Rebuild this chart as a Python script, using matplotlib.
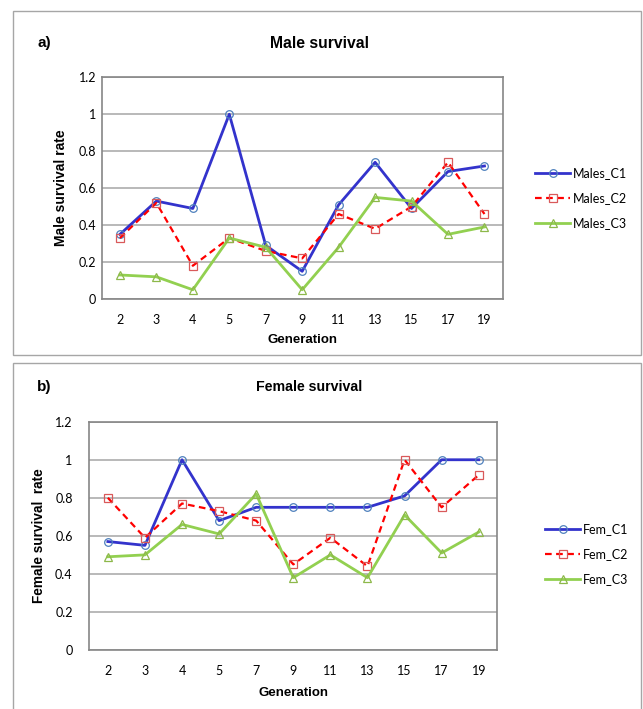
import matplotlib
matplotlib.use("Agg")
import matplotlib.pyplot as plt
from matplotlib.patches import Rectangle

generations = ["2", "3", "4", "5", "7", "9", "11", "13", "15", "17", "19"]

males_c1 = [0.35, 0.53, 0.49, 1.00, 0.29, 0.15, 0.51, 0.74, 0.49, 0.69, 0.72]
males_c2 = [0.33, 0.52, 0.18, 0.33, 0.26, 0.22, 0.46, 0.38, 0.50, 0.74, 0.46]
males_c3 = [0.13, 0.12, 0.05, 0.33, 0.28, 0.05, 0.28, 0.55, 0.53, 0.35, 0.39]

fem_c1 = [0.57, 0.55, 1.00, 0.68, 0.75, 0.75, 0.75, 0.75, 0.81, 1.00, 1.00]
fem_c2 = [0.80, 0.59, 0.77, 0.73, 0.68, 0.45, 0.59, 0.44, 1.00, 0.75, 0.92]
fem_c3 = [0.49, 0.50, 0.66, 0.61, 0.82, 0.38, 0.50, 0.38, 0.71, 0.51, 0.62]

male_labels = ["Males_C1", "Males_C2", "Males_C3"]
fem_labels = ["Fem_C1", "Fem_C2", "Fem_C3"]
yticks = [0, 0.2, 0.4, 0.6, 0.8, 1, 1.2]
ytick_labels = ["0", "0.2", "0.4", "0.6", "0.8", "1", "1.2"]

W, H = 643, 709
fig = plt.figure(figsize=(W / 100, H / 100), dpi=100)

TICKFONT = "Lato"
BOLDFONT = "Liberation Sans"


def fx(px):
    return px / W


def fy(py):
    return 1 - py / H


# panel boxes
fig.patches.append(Rectangle((fx(13), fy(355)), fx(641) - fx(13), fy(11) - fy(355),
                             transform=fig.transFigure, fill=False,
                             edgecolor="#a6a6a6", linewidth=1.0))
fig.patches.append(Rectangle((fx(13), fy(760)), fx(641) - fx(13), fy(363) - fy(760),
                             transform=fig.transFigure, fill=False,
                             edgecolor="#a6a6a6", linewidth=1.0))

styles = [
    dict(color="#3333CC", linestyle="-", linewidth=2.0, marker="o",
         markeredgecolor="#4F81BD", markerfacecolor="none", markersize=5.5, markeredgewidth=0.9),
    dict(color="#FF0000", linestyle=(0, (3, 2)), linewidth=1.6, marker="s",
         markeredgecolor="#D9595A", markerfacecolor="none", markersize=5.5, markeredgewidth=0.9),
    dict(color="#92D050", linestyle="-", linewidth=2.0, marker="^",
         markeredgecolor="#8DB84A", markerfacecolor="none", markersize=5.5, markeredgewidth=0.9),
]


def make_panel(rect, series, labels, ylabel, ylabel_x, ylabel_size, title, title_x, title_y,
               title_size, tag, tag_x, xlabel_y, ytick_pad, xtick_pad, leg_anchor):
    ax = fig.add_axes(rect)
    x = list(range(len(generations)))
    for vals, lab, st in zip(series, labels, styles):
        ax.plot(x, vals, label=lab, **st)
    ax.set_xlim(-0.5, len(generations) - 0.5)
    ax.set_ylim(0, 1.2)
    ax.set_xticks(x)
    ax.set_xticklabels(generations, fontfamily=TICKFONT, fontsize=9)
    ax.set_yticks(yticks)
    ax.set_yticklabels(ytick_labels, fontfamily=TICKFONT, fontsize=9)
    ax.tick_params(axis="y", length=0, pad=ytick_pad)
    ax.tick_params(axis="x", length=0, pad=xtick_pad)
    ax.grid(axis="y", color="#a6a6a6", linewidth=1.1)
    ax.set_axisbelow(True)
    for sp in ax.spines.values():
        sp.set_color("#868686")
        sp.set_linewidth(1.2)
    fig.text(fx(ylabel_x), rect[1] + rect[3] / 2, ylabel, rotation=90,
             ha="center", va="center", fontfamily=BOLDFONT, fontweight="bold",
             fontsize=ylabel_size)
    fig.text(rect[0] + rect[2] / 2, fy(xlabel_y), "Generation", ha="center", va="center",
             fontfamily=BOLDFONT, fontweight="bold", fontsize=9.5)
    fig.text(fx(title_x), fy(title_y), title, ha="center", va="center",
             fontfamily=BOLDFONT, fontweight="bold", fontsize=title_size)
    fig.text(fx(tag_x), fy(title_y), tag, ha="left", va="center",
             fontfamily=BOLDFONT, fontweight="bold", fontsize=11)
    ax.legend(loc="upper left", bbox_to_anchor=leg_anchor,
              bbox_transform=fig.transFigure, frameon=False,
              handlelength=2.8, handletextpad=0.2, labelspacing=1.05,
              borderpad=0, borderaxespad=0,
              prop={"family": TICKFONT, "size": 9})
    return ax


# top panel
make_panel([fx(101.7), fy(299), fx(502.7) - fx(101.7), fy(77.3) - fy(299)],
           [males_c1, males_c2, males_c3], male_labels, "Male survival rate", 61, 10,
           "Male survival", 320, 43, 11.3, "a)", 37, 340, 4, 11,
           (fx(535), fy(167)))

# bottom panel
make_panel([fx(89.3), fy(650), fx(497.3) - fx(89.3), fy(421.7) - fy(650)],
           [fem_c1, fem_c2, fem_c3], fem_labels, "Female survival  rate", 39, 9.8,
           "Female survival", 309, 387, 10.2, "b)", 37, 693, 12, 11,
           (fx(545), fy(523)))

fig.savefig("out.png", dpi=100)
